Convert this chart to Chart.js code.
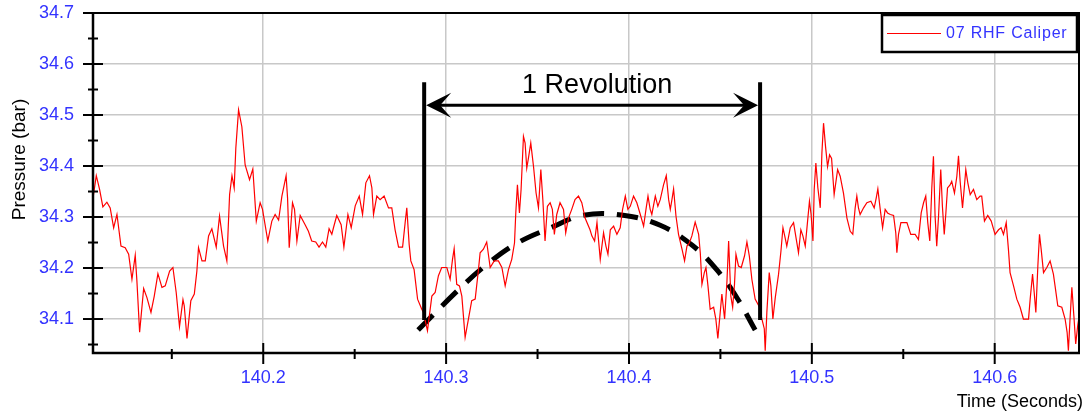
<!DOCTYPE html>
<html><head><meta charset="utf-8">
<script src="https://cdn.jsdelivr.net/npm/chart.js@4.4.0/dist/chart.umd.min.js"></script>
<style>html,body{margin:0;padding:0;background:#fff;}canvas{display:block;}</style>
</head><body>
<canvas id="c" width="1091" height="416"></canvas>
<script>
const seriesName = '07 RHF Caliper';
const xTitle = 'Time (Seconds)';
const yTitle = 'Pressure (bar)';
const xRange = [140.1069, 140.6461];
const yRange = [34.0334, 34.7];
const tickStep = 0.1;

const times = [
140.1069,140.1087,140.1105,140.1123,140.1145,140.1163,140.1182,140.1200,140.1222,140.1245,
140.1264,140.1282,140.1300,140.1309,140.1324,140.1346,140.1364,140.1386,140.1404,140.1424,
140.1446,140.1464,140.1488,140.1506,140.1524,140.1542,140.1561,140.1568,140.1583,140.1604,
140.1623,140.1637,140.1646,140.1665,140.1683,140.1701,140.1719,140.1743,140.1761,140.1783,
140.1801,140.1816,140.1829,140.1841,140.1850,140.1865,140.1883,140.1901,140.1925,140.1943,
140.1962,140.1983,140.1996,140.2025,140.2047,140.2065,140.2084,140.2102,140.2125,140.2133,
140.2142,140.2160,140.2171,140.2184,140.2202,140.2229,140.2247,140.2265,140.2287,140.2305,
140.2324,140.2342,140.2360,140.2375,140.2384,140.2402,140.2426,140.2441,140.2463,140.2481,
140.2503,140.2525,140.2543,140.2561,140.2581,140.2594,140.2603,140.2621,140.2639,140.2661,
140.2685,140.2703,140.2721,140.2740,140.2762,140.2776,140.2785,140.2798,140.2807,140.2825,
140.2844,140.2867,140.2876,140.2898,140.2922,140.2940,140.2958,140.2976,140.3004,140.3022,
140.3035,140.3044,140.3058,140.3073,140.3086,140.3104,140.3122,140.3140,140.3159,140.3177,
140.3186,140.3204,140.3222,140.3241,140.3263,140.3286,140.3305,140.3323,140.3341,140.3359,
140.3374,140.3381,140.3390,140.3401,140.3410,140.3423,140.3432,140.3441,140.3450,140.3463,
140.3478,140.3492,140.3505,140.3518,140.3529,140.3541,140.3554,140.3569,140.3581,140.3592,
140.3605,140.3623,140.3642,140.3654,140.3669,140.3687,140.3705,140.3724,140.3742,140.3760,
140.3787,140.3797,140.3812,140.3825,140.3843,140.3861,140.3874,140.3885,140.3898,140.3916,
140.3934,140.3952,140.3965,140.3980,140.3994,140.4007,140.4025,140.4043,140.4062,140.4080,
140.4093,140.4104,140.4116,140.4125,140.4144,140.4158,140.4171,140.4189,140.4204,140.4217,
140.4226,140.4235,140.4244,140.4257,140.4271,140.4290,140.4304,140.4317,140.4330,140.4344,
140.4362,140.4381,140.4390,140.4399,140.4412,140.4421,140.4432,140.4444,140.4463,140.4475,
140.4486,140.4499,140.4508,140.4523,140.4536,140.4545,140.4557,140.4567,140.4577,140.4585,
140.4599,140.4614,140.4632,140.4645,140.4658,140.4672,140.4690,140.4714,140.4727,140.4740,
140.4745,140.4754,140.4767,140.4776,140.4787,140.4800,140.4818,140.4831,140.4842,140.4854,
140.4863,140.4882,140.4900,140.4915,140.4927,140.4940,140.4951,140.4964,140.4976,140.4987,
140.4996,140.5006,140.5013,140.5022,140.5033,140.5046,140.5055,140.5064,140.5075,140.5086,
140.5097,140.5108,140.5122,140.5141,140.5155,140.5173,140.5192,140.5210,140.5224,140.5237,
140.5246,140.5255,140.5264,140.5283,140.5301,140.5323,140.5341,140.5352,140.5361,140.5374,
140.5387,140.5401,140.5414,140.5429,140.5447,140.5459,140.5465,140.5474,140.5487,140.5520,
140.5541,140.5565,140.5583,140.5598,140.5611,140.5623,140.5634,140.5645,140.5656,140.5665,
140.5674,140.5683,140.5693,140.5705,140.5714,140.5724,140.5733,140.5742,140.5756,140.5765,
140.5780,140.5793,140.5802,140.5811,140.5824,140.5835,140.5842,140.5853,140.5866,140.5884,
140.5902,140.5920,140.5929,140.5944,140.5962,140.5981,140.6002,140.6021,140.6035,140.6048,
140.6063,140.6075,140.6084,140.6103,140.6121,140.6139,140.6157,140.6185,140.6194,140.6207,
140.6216,140.6225,140.6236,140.6245,140.6254,140.6267,140.6285,140.6303,140.6321,140.6330,
140.6345,140.6367,140.6385,140.6396,140.6403,140.6412,140.6422,140.6433,140.6443,140.6454,
140.6465
];
const pressures = [
34.337,34.381,34.354,34.320,34.329,34.318,34.279,34.305,34.243,34.240,
34.227,34.178,34.225,34.175,34.074,34.160,34.142,34.113,34.145,34.189,
34.162,34.165,34.194,34.201,34.152,34.085,34.138,34.126,34.062,34.136,
34.149,34.194,34.240,34.214,34.214,34.263,34.277,34.241,34.302,34.243,
34.214,34.344,34.381,34.357,34.435,34.510,34.477,34.402,34.373,34.394,
34.292,34.328,34.315,34.253,34.292,34.305,34.294,34.341,34.381,34.337,
34.240,34.328,34.315,34.253,34.303,34.285,34.272,34.253,34.251,34.241,
34.251,34.241,34.277,34.266,34.279,34.303,34.285,34.241,34.305,34.279,
34.322,34.341,34.305,34.367,34.381,34.357,34.305,34.341,34.334,34.341,
34.318,34.318,34.275,34.241,34.241,34.289,34.318,34.246,34.214,34.197,
34.139,34.119,34.113,34.077,34.145,34.152,34.185,34.201,34.201,34.178,
34.217,34.238,34.168,34.165,34.145,34.064,34.100,34.136,34.139,34.197,
34.230,34.237,34.251,34.201,34.214,34.214,34.201,34.165,34.197,34.217,
34.249,34.308,34.363,34.308,34.354,34.458,34.445,34.396,34.415,34.445,
34.399,34.347,34.318,34.393,34.334,34.253,34.321,34.328,34.315,34.266,
34.305,34.328,34.315,34.269,34.298,34.315,34.334,34.341,34.328,34.298,
34.275,34.263,34.253,34.289,34.217,34.269,34.243,34.227,34.275,34.282,
34.266,34.279,34.315,34.341,34.315,34.321,34.341,34.328,34.305,34.282,
34.315,34.341,34.315,34.305,34.341,34.321,34.334,34.363,34.381,34.334,
34.315,34.334,34.355,34.302,34.266,34.237,34.214,34.243,34.249,34.263,
34.290,34.266,34.230,34.168,34.191,34.201,34.165,34.119,34.123,34.100,
34.062,34.113,34.149,34.100,34.175,34.253,34.145,34.123,34.168,34.227,
34.204,34.201,34.224,34.251,34.224,34.178,34.139,34.123,34.100,34.081,
34.038,34.113,34.191,34.165,34.100,34.142,34.188,34.233,34.279,34.259,
34.243,34.279,34.289,34.256,34.230,34.275,34.263,34.243,34.289,34.331,
34.305,34.253,34.354,34.406,34.357,34.318,34.425,34.484,34.438,34.399,
34.422,34.415,34.344,34.393,34.380,34.347,34.298,34.272,34.266,34.318,
34.341,34.318,34.305,34.318,34.328,34.331,34.318,34.337,34.355,34.315,
34.279,34.315,34.308,34.305,34.303,34.269,34.230,34.266,34.289,34.289,
34.266,34.266,34.256,34.308,34.328,34.341,34.289,34.253,34.357,34.419,
34.302,34.243,34.302,34.393,34.321,34.266,34.308,34.357,34.363,34.370,
34.347,34.380,34.420,34.370,34.318,34.363,34.393,34.367,34.344,34.354,
34.334,34.341,34.341,34.292,34.303,34.292,34.266,34.275,34.279,34.266,
34.289,34.237,34.191,34.165,34.139,34.123,34.100,34.100,34.139,34.188,
34.152,34.113,34.204,34.266,34.237,34.191,34.201,34.214,34.188,34.165,
34.126,34.123,34.100,34.074,34.038,34.100,34.162,34.106,34.051,34.087,
34.113
];

// Hand-drawn "one revolution" trend (dashed)
const trendTimes = [140.2847,140.3077,140.3225,140.3389,140.3569,140.3750,140.3968,140.4171,140.4346,140.4482,140.4592,140.4690];
const trendPressures = [34.0785,34.1607,34.2077,34.2489,34.2783,34.3034,34.3034,34.2838,34.2446,34.1957,34.1408,34.0785];

// Annotation: revolution markers
const revolutionLabel = '1 Revolution';
const revolutionTimes = [140.2880, 140.4717];
const revolutionSpan = [34.098, 34.564];
const arrowPressure = 34.519;
const labelPosition = [140.3826, 34.558];

const FONT = '"Liberation Sans", Arial, Helvetica, sans-serif';
const BLUE = 'rgb(51,51,255)';

const decor = {
  id: 'decor',
  afterDatasetsDraw(chart) {
    const {ctx, scales: {x, y}} = chart;
    ctx.save();
    ctx.strokeStyle = '#000';
    ctx.fillStyle = '#000';
    ctx.lineWidth = 4;
    const yTop = y.getPixelForValue(revolutionSpan[1]);
    const yBot = y.getPixelForValue(revolutionSpan[0]);
    revolutionTimes.forEach(t => {
      const px = x.getPixelForValue(t);
      ctx.beginPath(); ctx.moveTo(px, yTop); ctx.lineTo(px, yBot); ctx.stroke();
    });
    const ay = y.getPixelForValue(arrowPressure);
    const x1 = x.getPixelForValue(revolutionTimes[0]) + 2;
    const x2 = x.getPixelForValue(revolutionTimes[1]) - 2;
    ctx.lineWidth = 3;
    ctx.beginPath(); ctx.moveTo(x1 + 10, ay); ctx.lineTo(x2 - 10, ay); ctx.stroke();
    ctx.beginPath(); ctx.moveTo(x1, ay); ctx.lineTo(x1 + 25, ay - 12.5); ctx.lineTo(x1 + 14, ay); ctx.lineTo(x1 + 25, ay + 12.5); ctx.closePath(); ctx.fill();
    ctx.beginPath(); ctx.moveTo(x2, ay); ctx.lineTo(x2 - 25, ay - 12.5); ctx.lineTo(x2 - 14, ay); ctx.lineTo(x2 - 25, ay + 12.5); ctx.closePath(); ctx.fill();
    ctx.font = '27px ' + FONT;
    ctx.textAlign = 'center';
    ctx.textBaseline = 'middle';
    ctx.fillText(revolutionLabel, x.getPixelForValue(labelPosition[0]), y.getPixelForValue(labelPosition[1]));
    ctx.restore();
  },
  afterDraw(chart) {
    const {ctx, chartArea: a, scales: {x, y}} = chart;
    ctx.save();
    // frame
    ctx.strokeStyle = '#000';
    ctx.lineWidth = 2;
    ctx.beginPath(); ctx.moveTo(a.left, a.top); ctx.lineTo(a.right, a.top); ctx.lineTo(a.right, a.bottom); ctx.stroke();
    ctx.lineWidth = 2.5;
    ctx.beginPath(); ctx.moveTo(a.left, a.top - 1); ctx.lineTo(a.left, a.bottom); ctx.lineTo(a.right + 1, a.bottom); ctx.stroke();
    // tick marks (major + minor)
    ctx.lineWidth = 2;
    const minorOf = (scale) => {
      const v = scale.ticks.map(t => t.value);
      const m = v.map(val => val - tickStep / 2);
      m.push(v[v.length - 1] + tickStep / 2);
      return m.filter(val => val > scale.min && val < scale.max);
    };
    y.ticks.forEach(t => { const py = y.getPixelForValue(t.value); ctx.beginPath(); ctx.moveTo(a.left - 10, py); ctx.lineTo(a.left + 10, py); ctx.stroke(); });
    minorOf(y).forEach(v => { const py = y.getPixelForValue(v); ctx.beginPath(); ctx.moveTo(a.left - 5, py); ctx.lineTo(a.left + 5, py); ctx.stroke(); });
    x.ticks.forEach(t => { const px = x.getPixelForValue(t.value); ctx.beginPath(); ctx.moveTo(px, a.bottom - 10); ctx.lineTo(px, a.bottom + 11); ctx.stroke(); });
    minorOf(x).forEach(v => { const px = x.getPixelForValue(v); ctx.beginPath(); ctx.moveTo(px, a.bottom - 4); ctx.lineTo(px, a.bottom + 6); ctx.stroke(); });
    // axis titles
    ctx.fillStyle = '#000';
    ctx.font = '18px ' + FONT;
    ctx.textAlign = 'right';
    ctx.textBaseline = 'alphabetic';
    ctx.fillText(xTitle, a.right + 4, a.bottom + 53.5);
    ctx.save();
    ctx.translate(25, 159.5);
    ctx.rotate(-Math.PI / 2);
    ctx.textAlign = 'center';
    ctx.font = '19px ' + FONT;
    ctx.fillText(yTitle, 0, 0);
    ctx.restore();
    // legend
    const ds = chart.data.datasets[0];
    const lx = a.right - 197, ly = a.top + 2, lw = 195, lh = 37;
    ctx.fillStyle = '#fff';
    ctx.fillRect(lx, ly, lw, lh);
    ctx.lineWidth = 2.5;
    ctx.strokeStyle = '#000';
    ctx.strokeRect(lx, ly, lw, lh);
    ctx.strokeStyle = ds.borderColor;
    ctx.lineWidth = 1.2;
    ctx.beginPath(); ctx.moveTo(lx + 5, ly + 18.5); ctx.lineTo(lx + 59, ly + 18.5); ctx.stroke();
    ctx.fillStyle = BLUE;
    ctx.font = '16px ' + FONT;
    ctx.textAlign = 'left';
    ctx.textBaseline = 'middle';
    try { ctx.letterSpacing = '0.8px'; } catch (e) {}
    ctx.fillText(ds.label, lx + 64, ly + 19);
    ctx.restore();
  }
};

const onlyTenths = (scale) => {
  scale.ticks = scale.ticks.filter(t => Math.abs(t.value / tickStep - Math.round(t.value / tickStep)) < 1e-6);
};

new Chart(document.getElementById('c'), {
  type: 'line',
  data: {
    datasets: [
      {
        label: seriesName,
        data: times.map((t, i) => ({x: t, y: pressures[i]})),
        borderColor: '#ff0000',
        borderWidth: 1.2,
        pointRadius: 0,
        tension: 0,
        fill: false
      },
      {
        label: 'trend',
        data: trendTimes.map((t, i) => ({x: t, y: trendPressures[i]})),
        borderColor: '#000',
        borderWidth: 5,
        borderDash: [21, 13],
        pointRadius: 0,
        tension: 0.4,
        fill: false,
        clip: false
      }
    ]
  },
  options: {
    responsive: false,
    animation: false,
    devicePixelRatio: 1,
    layout: {padding: {top: 13, right: 12, left: 0, bottom: 0}},
    plugins: {legend: {display: false}, tooltip: {enabled: false}},
    scales: {
      x: {
        type: 'linear',
        min: xRange[0], max: xRange[1],
        afterBuildTicks: onlyTenths,
        afterFit: (s) => { s.height = 63; },
        ticks: {stepSize: tickStep, includeBounds: false, autoSkip: false, maxRotation: 0, minRotation: 0, padding: 0, color: BLUE,
          font: {family: FONT, size: 18}, callback: v => Number(v).toFixed(1)},
        grid: {color: '#c8c8c8', lineWidth: 1.5, drawTicks: true, tickLength: 14, tickColor: 'rgba(0,0,0,0)'},
        border: {display: false}
      },
      y: {
        type: 'linear',
        min: yRange[0], max: yRange[1],
        afterBuildTicks: onlyTenths,
        afterFit: (s) => { s.width = 93; },
        ticks: {stepSize: tickStep, includeBounds: false, padding: 0, color: BLUE,
          font: {family: FONT, size: 18}, callback: v => Number(v).toFixed(1)},
        grid: {color: '#c8c8c8', lineWidth: 1.5, drawTicks: true, tickLength: 19, tickColor: 'rgba(0,0,0,0)'},
        border: {display: false}
      }
    }
  },
  plugins: [decor]
});
</script>
</body></html>
